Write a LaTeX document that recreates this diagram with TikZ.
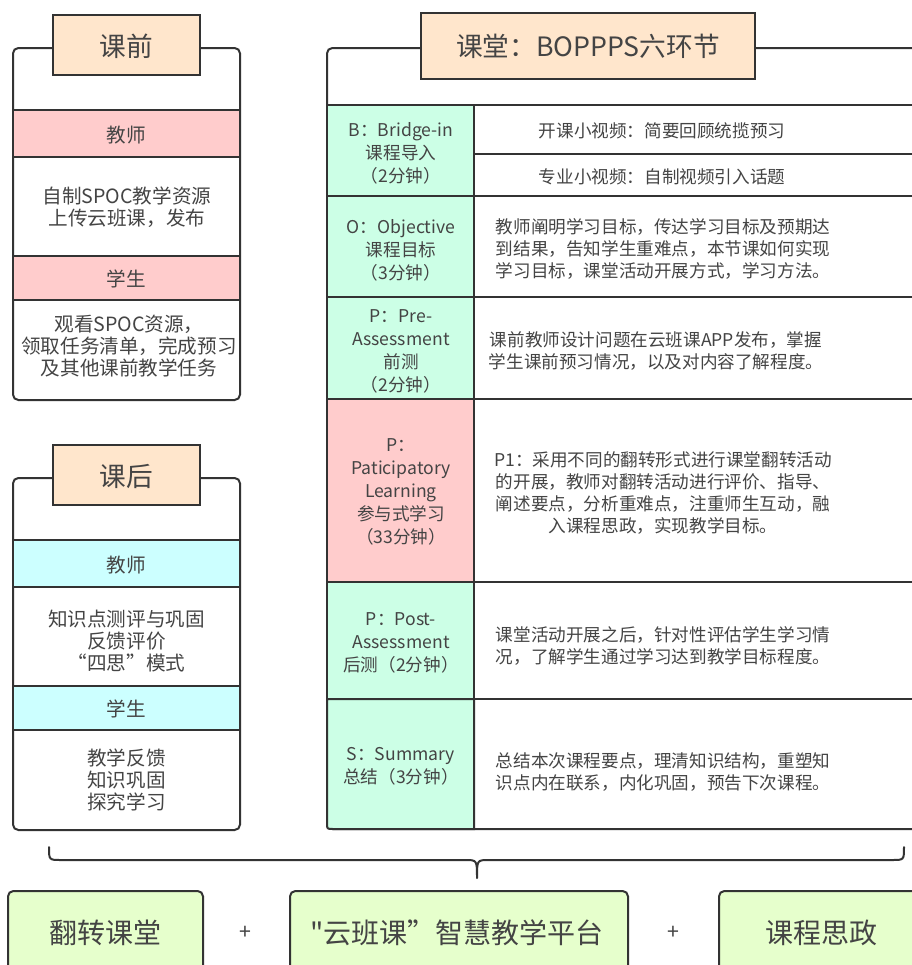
\documentclass[tikz,border=0pt]{standalone}
\usepackage{fontspec}
\setmainfont{Noto Sans CJK SC}
\newfontfamily\rawcjk{Noto Sans CJK SC}
\definecolor{lc}{HTML}{333333}
\definecolor{tc}{HTML}{444444}
\definecolor{peach}{HTML}{FFE6CC}
\definecolor{pinkc}{HTML}{FFCCCC}
\definecolor{mint}{HTML}{CCFFE6}
\definecolor{cyanc}{HTML}{CCFFFF}
\definecolor{lgreen}{HTML}{E6FFCC}
\tikzset{
  ln/.style={draw=lc, line width=1.5pt},
  rtxt/.style={text=tc, align=center, inner sep=0pt, font=\fontsize{13.2}{16.5}\selectfont},
  ctxt/.style={text=tc, align=center, inner sep=0pt, font=\fontsize{13.2}{17.25}\selectfont},
  ltxt/.style={text=tc, align=center, inner sep=0pt, font=\fontsize{14.7}{16.5}\selectfont},
  ttxt/.style={text=tc, align=center, inner sep=0pt, font=\fontsize{20}{24}\selectfont},
  btxt/.style={text=tc, align=center, inner sep=0pt, font=\fontsize{21}{24}\selectfont},
  ptxt/.style={text=tc, align=center, inner sep=0pt, font=\fontsize{16}{18}\selectfont},
}
\begin{document}
\begin{tikzpicture}[x=0.75pt,y=-0.75pt]
\useasboundingbox (0,0) rectangle (912,965);
\clip (0,0) rectangle (912,965);

% ---------- left top panel: 课前 ----------
\draw[ln, fill=white, rounded corners=4] (13,48) rectangle (240,400);
\draw[ln, fill=pinkc] (13,110) rectangle (240,157);
\draw[ln, fill=pinkc] (13,256) rectangle (240,300);
\draw[ln, fill=peach] (53,15) rectangle (200,75);
\node[ttxt] (t1) at (126.5,46) {课前};
\node[ltxt] (t1a) at (126.5,135) {教师};
\node[ltxt] (t1b) at (127,207) {自制SPOC教学资源\\上传云班课，发布};
\node[ltxt] (t1c) at (126.5,279) {学生};
\node[ltxt] (t1d) at (129,346) {观看SPOC资源，\\领取任务清单，完成预习\\及其他课前教学任务};

% ---------- left bottom panel: 课后 ----------
\draw[ln, fill=white, rounded corners=4] (13,478) rectangle (240,830);
\draw[ln, fill=cyanc] (13,540) rectangle (240,587);
\draw[ln, fill=cyanc] (13,686) rectangle (240,730);
\draw[ln, fill=peach] (53,445) rectangle (200,505);
\node[ttxt] (t2) at (126.5,476) {课后};
\node[ltxt] (t2a) at (126.5,565) {教师};
\node[ltxt] (t2b) at (126.5,641) {知识点测评与巩固\\反馈评价\\“四思”模式};
\node[ltxt] (t2c) at (126.5,709) {学生};
\node[ltxt] (t2d) at (126.5,780) {教学反馈\\知识巩固\\探究学习};

% ---------- right panel: 课堂 ----------
\draw[ln, fill=white, rounded corners=4] (327,48) rectangle (950,829);
% right column cells
\draw[ln, fill=white] (474,105) rectangle (950,154);
\draw[ln, fill=white] (474,154) rectangle (950,196);
\draw[ln, fill=white] (474,196) rectangle (950,297);
\draw[ln, fill=white] (474,297) rectangle (950,399);
\draw[ln, fill=white] (474,399) rectangle (950,582);
\draw[ln, fill=white] (474,582) rectangle (950,699);
\draw[ln, fill=white] (474,699) rectangle (950,829);
% left column cells
\draw[ln, fill=mint] (327,105) rectangle (474,196);
\draw[ln, fill=mint] (327,196) rectangle (474,297);
\draw[ln, fill=mint] (327,297) rectangle (474,399);
\draw[ln, fill=pinkc] (327,399) rectangle (474,582);
\draw[ln, fill=mint] (327,582) rectangle (474,699);
\draw[ln, fill=mint] (327,699) -- (474,699) -- (474,829) -- (333,829)
   .. controls (327,829) .. (327,823) -- cycle;
\draw[ln, fill=peach] (421,13) rectangle (755,79);
\node[ttxt] (t3) at (588,46) {课堂：BOPPPS六环节};

\node[ctxt] (cb) at (401,153) {B：Bridge-in\\课程导入\\（2分钟）};
\node[ctxt] (co) at (401,250) {O：Objective\\课程目标\\（3分钟）};
\node[ctxt] (cp1) at (401,351) {P：Pre-\\Assessment\\前测\\（2分钟）};
\node[ctxt] (cp2) at (401,492) {P：\\Paticipatory\\Learning\\参与式学习\\（33分钟）};
\node[ctxt] (cp3) at (401,643) {P：Post-\\Assessment\\后测（2分钟）};
\node[ctxt] (cs) at (401,766) {S：Summary\\总结（3分钟）};

\node[rtxt] (rb1) at (662,131) {开课小视频：简要回顾统揽预习};
\node[rtxt] (rb2) at (662,177) {专业小视频：自制视频引入话题};
\node[rtxt] (ro) at (663,249) {教师阐明学习目标，传达学习目标及预期达\\到结果，告知学生重难点，本节课如何实现\\学习目标，课堂活动开展方式，学习方法。};
\node[rtxt] (rp1) at (656,351) {课前教师设计问题在云班课APP发布，掌握\\学生课前预习情况，以及对内容了解程度。};
\node[rtxt] (rp2) at (663,493) {P1：采用不同的翻转形式进行课堂翻转活动\\的开展，教师对翻转活动进行评价、指导、\\阐述要点，分析重难点，注重师生互动，融\\入课程思政，实现教学目标。};
\node[rtxt] (rp3) at (663,646) {课堂活动开展之后，针对性评估学生学习情\\况，了解学生通过学习达到教学目标程度。};
\node[rtxt] (rs) at (663,772) {总结本次课程要点，理清知识结构，重塑知\\识点内在联系，内化巩固，预告下次课程。};

% ---------- brace ----------
\coordinate (bl) at (49,847);
\coordinate (br) at (904,847);
\coordinate (bt) at (477,878);
\draw[ln, line cap=round, line join=round] (bl) .. controls (49,860) .. (61,860) -- (465,860)
   .. controls (477,860) .. (bt) .. controls (477,860) .. (489,860) -- (892,860)
   .. controls (904,860) .. (br);

% ---------- bottom boxes ----------
\draw[ln, fill=lgreen, rounded corners=4] (8,891) rectangle (203,975);
\draw[ln, fill=lgreen, rounded corners=4] (290,891) rectangle (628,975);
\draw[ln, fill=lgreen, rounded corners=4] (719,891) rectangle (923,975);
\node[btxt] (f1) at (105.5,933) {翻转课堂};
\node[btxt] (f2) at (457,933) {{\rawcjk"}云班课”智慧教学平台};
\node[btxt] (f3) at (821,933) {课程思政};
\node[ptxt] (p1) at (245,933) {+};
\node[ptxt] (p2) at (673,933) {+};
\end{tikzpicture}
\end{document}
